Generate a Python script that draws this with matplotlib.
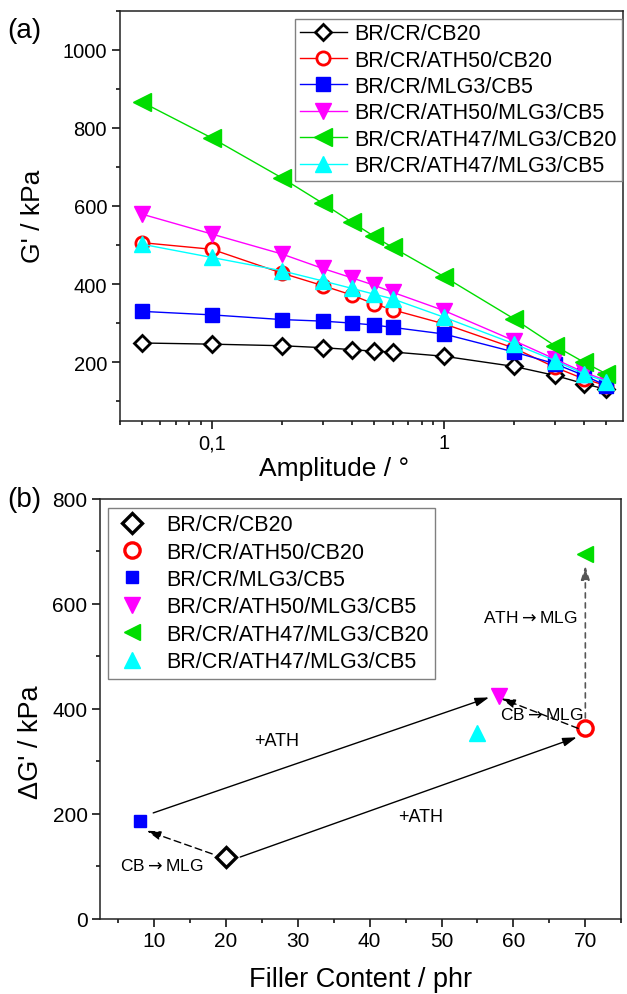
# Strain sweep (a) and delta G' vs filler content (b)
import numpy as np
import matplotlib
matplotlib.use("Agg")
import matplotlib.pyplot as plt
from matplotlib.ticker import FixedLocator, FixedFormatter, LogLocator, NullFormatter, MultipleLocator

plt.rcParams['font.family'] = ['Liberation Sans', 'DejaVu Sans']

# ---- data ----
names = ['BR/CR/CB20', 'BR/CR/ATH50/CB20', 'BR/CR/MLG3/CB5',
         'BR/CR/ATH50/MLG3/CB5', 'BR/CR/ATH47/MLG3/CB20', 'BR/CR/ATH47/MLG3/CB5']
colors = ['black', '#ff0000', '#0000ff', '#ff00ff', '#00dd00', '#00ffff']
markers = ['D', 'o', 's', 'v', '<', '^']

amplitude = [0.05, 0.1, 0.2, 0.3, 0.4, 0.5, 0.6, 1, 2, 3, 4, 5]
g_cb20 = [249, 246, 242, 237, 232, 228, 226, 215, 189, 166, 145, 130]
g_ath50_cb20 = [506, 489, 428, 396, 372, 349, 334, 298, 236, 187, 157, 140]
g_mlg3_cb5 = [330, 321, 309, 305, 300, 295, 289, 272, 226, 196, 166, 140]
g_ath50_mlg3_cb5 = [579, 528, 477, 440, 416, 397, 379, 332, 255, 208, 174, 153]
g_ath47_mlg3_cb20 = [866, 774, 672, 607, 559, 522, 494, 419, 311, 242, 200, 170]
g_ath47_mlg3_cb5 = [502, 468, 434, 408, 389, 374, 362, 315, 247, 204, 170, 150]
g_all = [g_cb20, g_ath50_cb20, g_mlg3_cb5, g_ath50_mlg3_cb5, g_ath47_mlg3_cb20, g_ath47_mlg3_cb5]

filler = [20, 70, 8, 58, 70, 55]
delta_g = [118, 363, 187, 425, 696, 355]

fig = plt.figure(figsize=(6.27, 9.95), dpi=100)

# ---------------- (a) ----------------
ax1 = fig.add_axes([0.1906, 0.5762, 0.803, 0.412])
msz = [8.6, 9.5, 10.2, 12, 13, 12]
for g, c, m, n, s in zip(g_all, colors, markers, names, msz):
    if m in ('D', 'o'):
        ax1.plot(amplitude, g, color=c, lw=1, marker=m, ms=s, mfc='white',
                 mec=c, mew=2, label=n)
    else:
        ax1.plot(amplitude, g, color=c, lw=1, marker=m, ms=s, mfc=c,
                 mec=c, label=n)
ax1.set_xscale('log')
ax1.set_xlim(0.04, 5.9)
ax1.set_ylim(50, 1100)
ax1.xaxis.set_major_locator(FixedLocator([0.1, 1]))
ax1.xaxis.set_major_formatter(FixedFormatter(['0,1', '1']))
ax1.xaxis.set_minor_locator(LogLocator(base=10, subs=np.arange(2, 10)))
ax1.xaxis.set_minor_formatter(NullFormatter())
ax1.yaxis.set_major_locator(MultipleLocator(200))
ax1.yaxis.set_minor_locator(MultipleLocator(100))
ax1.tick_params(which='major', length=5.5, width=1.1, labelsize=14.5)
ax1.tick_params(which='minor', length=3, width=1.1)
ax1.set_xlabel('Amplitude / °', fontsize=19, va='center')
ax1.set_ylabel("G' / kPa", fontsize=19, va='center')
ax1.xaxis.set_label_coords(0.426, -0.115)
ax1.yaxis.set_label_coords(-0.172, 0.502)
leg1 = ax1.legend(loc='upper right', bbox_to_anchor=(0.9974, 0.981), borderaxespad=0,
                  fontsize=15.5, handlelength=2.2, handletextpad=0.35, labelspacing=0.25,
                  borderpad=0.22, fancybox=False, framealpha=1)
leg1.get_frame().set_edgecolor('#808080')
leg1.get_frame().set_linewidth(1)
fig.text(0.011, 0.969, '(a)', fontsize=20, va='center')

# ---------------- (b) ----------------
ax2 = fig.add_axes([0.1595, 0.0754, 0.8314, 0.4221])
msz2 = [10.2, 11, 8.5, 11.5, 12, 11.5]
for x, y, c, m, n, s in zip(filler, delta_g, colors, markers, names, msz2):
    if m in ('D', 'o'):
        ax2.plot([x], [y], ls='none', marker=m, ms=s, mfc='white', mec=c, mew=2.4, label=n)
    else:
        ax2.plot([x], [y], ls='none', marker=m, ms=s, mfc=c, mec=c, label=n)

head = '-|>,head_length=0.7,head_width=0.22'
solid = dict(arrowstyle=head, color='black', lw=1, mutation_scale=12, shrinkA=0, shrinkB=0)
dashed = dict(arrowstyle=head, color='black', lw=1, ls=(0, (5, 3)), mutation_scale=12, shrinkA=0, shrinkB=0)
dashed_grey = dict(arrowstyle=head, color='#555555', lw=1.2, ls=(0, (3, 3)), mutation_scale=12, shrinkA=0, shrinkB=0)
ax2.annotate('', xy=(56.6, 422), xytext=(9.9, 202), arrowprops=solid)
ax2.annotate('', xy=(68.8, 346), xytext=(22.0, 118), arrowprops=solid)
ax2.annotate('', xy=(9.0, 168), xytext=(18.1, 124), arrowprops=dashed)
ax2.annotate('', xy=(58.3, 420), xytext=(69.0, 363), arrowprops=dashed)
ax2.annotate('', xy=(70, 673), xytext=(70, 383), arrowprops=dashed_grey)

ax2.text(27.0, 340, '+ATH', fontsize=13, ha='center', va='center')
ax2.text(47.1, 195, '+ATH', fontsize=13, ha='center', va='center')
ax2.text(11.1, 103, r'CB$\rightarrow$MLG', fontsize=12.5, ha='center', va='center')
ax2.text(64.0, 390, r'CB$\rightarrow$MLG', fontsize=12.5, ha='center', va='center')
ax2.text(62.3, 575, r'ATH$\rightarrow$MLG', fontsize=12.5, ha='center', va='center')

ax2.set_xlim(2.5, 75)
ax2.set_ylim(0, 800)
ax2.xaxis.set_major_locator(MultipleLocator(10))
ax2.xaxis.set_minor_locator(MultipleLocator(5))
ax2.yaxis.set_major_locator(MultipleLocator(200))
ax2.yaxis.set_minor_locator(MultipleLocator(100))
ax2.tick_params(which='major', length=5.5, width=1.1, labelsize=15)
ax2.tick_params(which='minor', length=3, width=1.1)
ax2.set_xlabel('Filler Content / phr', fontsize=19.5, va='center')
ax2.set_ylabel("ΔG' / kPa", fontsize=19.5, va='center')
ax2.xaxis.set_label_coords(0.499, -0.143)
ax2.yaxis.set_label_coords(-0.132, 0.424)
leg2 = ax2.legend(loc='upper left', bbox_to_anchor=(0.016, 0.9795), borderaxespad=0,
                  fontsize=15.5, handlelength=1.6, handletextpad=0.8, labelspacing=0.3,
                  borderpad=0.3, fancybox=False, framealpha=1, numpoints=1)
leg2.get_frame().set_edgecolor('#808080')
leg2.get_frame().set_linewidth(1)
fig.text(0.011, 0.497, '(b)', fontsize=20, va='center')

for ax in (ax1, ax2):
    for sp in ax.spines.values():
        sp.set_linewidth(1.1)
        sp.set_color('#222222')

fig.savefig('out.png', dpi=100)
